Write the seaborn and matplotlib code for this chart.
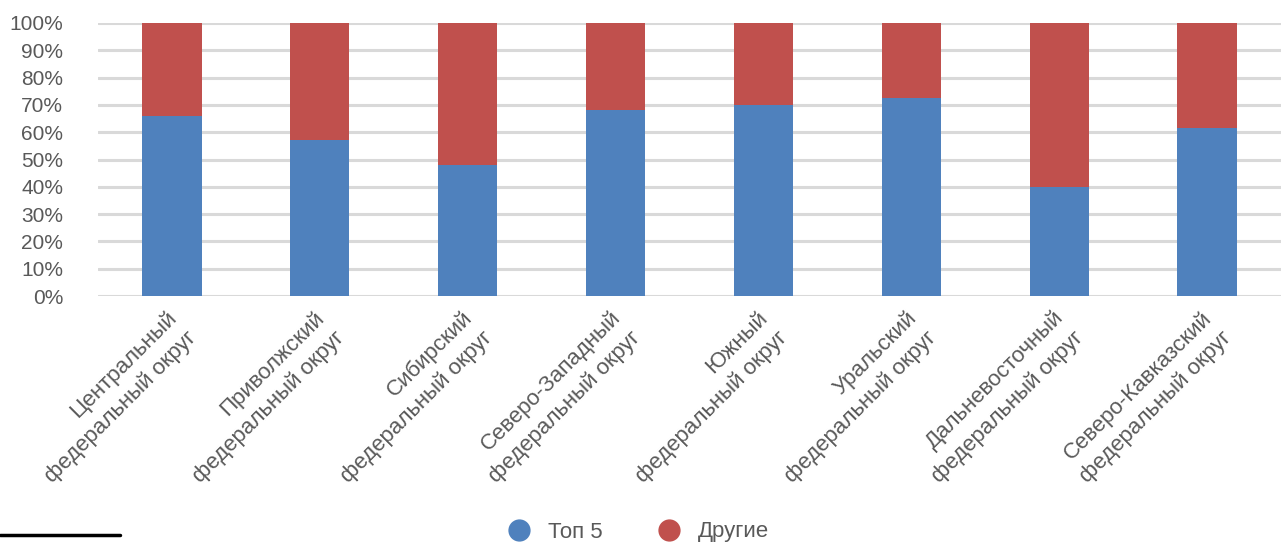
import numpy as np
import pandas as pd
import matplotlib
matplotlib.use('Agg')
import matplotlib.pyplot as plt
import matplotlib.transforms as mtransforms
import seaborn as sns
from matplotlib.lines import Line2D
from matplotlib.ticker import PercentFormatter

# data
districts = ['Центральный\nфедеральный округ', 'Приволжский\nфедеральный округ',
             'Сибирский\nфедеральный округ', 'Северо-Западный\nфедеральный округ',
             'Южный\nфедеральный округ', 'Уральский\nфедеральный округ',
             'Дальневосточный\nфедеральный округ', 'Северо-Кавказский\nфедеральный округ']
top5 = [66, 57, 48, 68, 70, 72.5, 40, 61.5]
others = [34, 43, 52, 32, 30, 27.5, 60, 38.5]
series_names = ['Топ 5', 'Другие']
yticks = [0, 10, 20, 30, 40, 50, 60, 70, 80, 90, 100]

df = pd.DataFrame({'district': districts, 'top5': top5, 'others': others})
df['total'] = df['top5'] + df['others']

sns.set_style('white')
plt.rcParams['font.family'] = ['Liberation Sans', 'DejaVu Sans']

blue = '#4F81BD'
red = '#C0504D'
grey_txt = '#595959'

fig = plt.figure(figsize=(12.81, 5.44), dpi=100)
ax = fig.add_axes([98/1281, 1 - 296/544, 1 - 98/1281, 273/544])

# stacked: draw the full height in red, then the top-5 share in blue over it
sns.barplot(data=df, x='district', y='total', color=red, width=0.4, saturation=1,
            linewidth=0, ax=ax, zorder=3)
sns.barplot(data=df, x='district', y='top5', color=blue, width=0.4, saturation=1,
            linewidth=0, ax=ax, zorder=4)

ax.set_ylim(0, 100)
ax.set_xlim(-0.5, len(districts) - 0.5)
ax.set_yticks(yticks)
ax.yaxis.set_major_formatter(PercentFormatter(decimals=0))
ax.grid(axis='y', color='#D9D9D9', linewidth=2.2, zorder=0)
ax.set_axisbelow(True)
for s in ax.spines.values():
    s.set_visible(False)
ax.set_xlabel('')
ax.set_ylabel('')
ax.tick_params(axis='y', labelsize=15, labelcolor=grey_txt, length=0, pad=25)
ax.tick_params(axis='x', labelsize=16, labelcolor=grey_txt, length=0, pad=8)
plt.setp(ax.get_xticklabels(), rotation=45, ha='right', va='top',
         rotation_mode='anchor', multialignment='right', linespacing=1.4)
# nudge the rotated labels a little to the left
shift = mtransforms.ScaledTranslation(-6/100, 0, fig.dpi_scale_trans)
for lab in ax.get_xticklabels():
    lab.set_transform(lab.get_transform() + shift)

# legend at the bottom
handles = [Line2D([], [], marker='o', linestyle='', markersize=15, color=blue),
           Line2D([], [], marker='o', linestyle='', markersize=15, color=red)]
fig.legend(handles, series_names, loc='center', bbox_to_anchor=(633/1281, 1 - 532/544),
           ncol=2, frameon=False, fontsize=16, labelcolor=grey_txt,
           handlelength=2, handletextpad=0.3, columnspacing=2.0)

# black rule bottom left
fig.add_artist(Line2D([0, 120/1281], [1 - 535/544, 1 - 535/544], color='black', linewidth=2.5))

fig.savefig('out.png', dpi=100)
